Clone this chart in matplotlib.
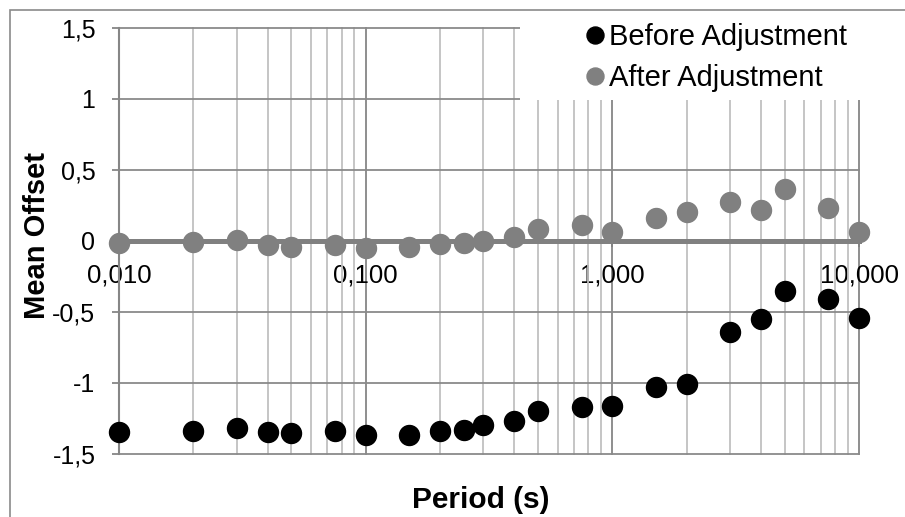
import matplotlib
matplotlib.use('Agg')
import matplotlib.pyplot as plt
from matplotlib.ticker import FixedLocator, FixedFormatter, LogLocator, NullFormatter
from matplotlib.patches import Rectangle

plt.rcParams['font.family'] = ['Liberation Sans', 'DejaVu Sans']

# ---- data ----
period = [0.01, 0.02, 0.03, 0.04, 0.05, 0.075, 0.1, 0.15, 0.2, 0.25, 0.3, 0.4,
          0.5, 0.75, 1.0, 1.5, 2.0, 3.0, 4.0, 5.0, 7.5, 10.0]
before = [-1.344, -1.335, -1.32, -1.347, -1.35, -1.335, -1.368, -1.363, -1.338,
          -1.328, -1.297, -1.267, -1.199, -1.168, -1.163, -1.03, -1.004, -0.642,
          -0.548, -0.354, -0.412, -0.546]
after = [-0.013, -0.01, 0.005, -0.032, -0.041, -0.03, -0.053, -0.046, -0.025,
         -0.018, -0.001, 0.027, 0.085, 0.109, 0.062, 0.158, 0.205, 0.271, 0.217,
         0.363, 0.229, 0.06]
x_ticks = [0.01, 0.1, 1, 10]
x_tick_labels = ['0,010', '0,100', '1,000', '10,000']
y_ticks = [-1.5, -1, -0.5, 0, 0.5, 1, 1.5]
y_tick_labels = ['-1,5', '-1', '-0,5', '0', '0,5', '1', '1,5']
series_labels = ['Before Adjustment', 'After Adjustment']

W, H = 905, 517
fig = plt.figure(figsize=(W / 100, H / 100), dpi=100)
fig.patch.set_facecolor('white')

# outer chart-area frame (left & top visible)
fig.add_artist(Rectangle((10 / W, -0.5), 2, (1 - 10 / H) + 0.5,
                         transform=fig.transFigure, fill=False,
                         ec='#8a8a8a', lw=1.2, zorder=0))

left, right, top, bottom = 119, 859, 27.7, 454
ax = fig.add_axes([left / W, 1 - bottom / H, (right - left) / W, (bottom - top) / H])
ax.set_xscale('log')
ax.set_axisbelow(True)

ax.plot(period, before, 'o', color='black', ms=14.4, label=series_labels[0],
        zorder=4, clip_on=False)
ax.plot(period, after, 'o', color='#808080', ms=14.4, label=series_labels[1],
        zorder=4, clip_on=False)

ax.set_xlim(0.01, 10)
ax.set_ylim(-1.5, 1.5)

ax.xaxis.set_major_locator(FixedLocator(x_ticks))
ax.xaxis.set_major_formatter(FixedFormatter(x_tick_labels))
ax.xaxis.set_minor_locator(LogLocator(base=10, subs=[2, 3, 4, 5, 6, 7, 8, 9]))
ax.xaxis.set_minor_formatter(NullFormatter())
ax.yaxis.set_major_locator(FixedLocator(y_ticks))
ax.yaxis.set_major_formatter(FixedFormatter(y_tick_labels))

ax.grid(which='major', axis='x', color='#868686', lw=1.3)
ax.grid(which='minor', axis='x', color='#c0c0c0', lw=1.3)
ax.grid(which='major', axis='y', color='#8a8a8a', lw=1.3)

for s in ['top', 'right']:
    ax.spines[s].set_visible(False)
ax.spines['bottom'].set_position(('data', 0))
ax.spines['bottom'].set_color('#808080')
ax.spines['bottom'].set_linewidth(3.6)
ax.spines['bottom'].set_zorder(3)
ax.spines['left'].set_color('#868686')
ax.spines['left'].set_linewidth(1.5)

ax.tick_params(axis='x', which='major', direction='out', length=4.5, width=1.2,
               color='#808080', labelsize=18.5, pad=12, labelcolor='black')
ax.tick_params(axis='x', which='minor', length=0)
ax.tick_params(axis='y', which='major', direction='out', length=5, width=1.3,
               color='#868686', labelsize=18, pad=12, labelcolor='black')

fig.canvas.draw()
for tk in ax.xaxis.get_major_ticks() + ax.xaxis.get_minor_ticks() + ax.yaxis.get_major_ticks():
    tk.gridline.set_clip_on(False)

# white legend background covering gridlines
ax.add_patch(Rectangle((520 / W, 1 - 100 / H), 345 / W, 75 / H,
                       transform=fig.transFigure, fc='white', ec='none',
                       zorder=5, clip_on=False))

leg = ax.legend(loc='upper left', bbox_to_anchor=(585 / W, 1 - 23 / H),
                bbox_transform=fig.transFigure, frameon=False, fontsize=21,
                markerscale=0.85, handlelength=0.7, handletextpad=0.12,
                labelspacing=0.45, borderpad=0, borderaxespad=0, numpoints=1)
leg.set_zorder(6)

fig.text(481 / W, 1 - 508 / H, 'Period (s)', ha='center', va='baseline',
         fontsize=21.5, fontweight='bold')
fig.text(37.5 / W, 1 - 235.5 / H, 'Mean Offset', rotation=90, ha='center',
         va='center', fontsize=21, fontweight='bold')

fig.savefig('out.png', dpi=100)
